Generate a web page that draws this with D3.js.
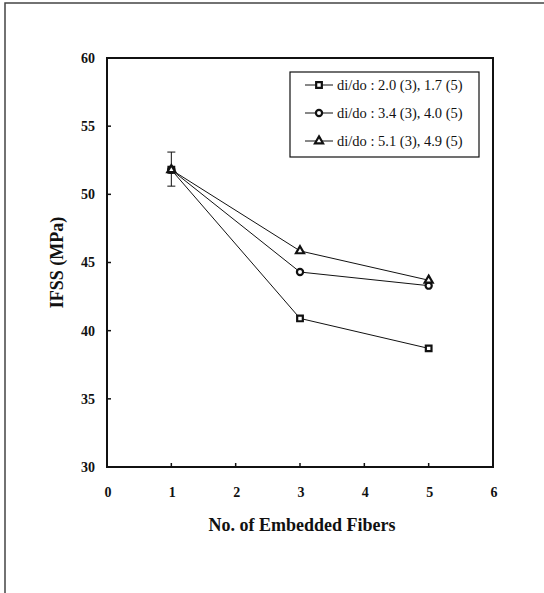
<!doctype html>
<html lang="en">
  <head>
    <meta charset="UTF-8" />
    <title>IFSS vs No. of Embedded Fibers</title>
    <script src="https://d3js.org/d3.v7.min.js"></script>
    <style>
      body {
        margin: 0;
        padding: 0;
        background: #fff;
      }
      text {
        font-family: 'Liberation Serif', 'Times New Roman', serif;
        fill: #111;
      }
      .tick-label {
        font-size: 14px;
        font-weight: bold;
      }
      .axis-title {
        font-size: 18px;
        font-weight: bold;
      }
      .legend-text {
        font-size: 14.5px;
      }
    </style>
  </head>
  <body>
    <div id="chart"></div>
    <script>
      // Data
      const fibers = [1, 3, 5]
      const seriesNames = [
        'di/do : 2.0 (3), 1.7 (5)',
        'di/do : 3.4 (3), 4.0 (5)',
        'di/do : 5.1 (3), 4.9 (5)',
      ]
      const seriesSymbols = ['square', 'circle', 'triangle']
      const ifssSquare = [51.8, 40.9, 38.7]
      const ifssCircle = [51.8, 44.3, 43.3]
      const ifssTriangle = [51.8, 45.85, 43.7]
      const errorLow = [50.6]
      const errorHigh = [53.1]
      const xTicks = [0, 1, 2, 3, 4, 5, 6]
      const yTicks = [30, 35, 40, 45, 50, 55, 60]

      const allSeries = [ifssSquare, ifssCircle, ifssTriangle]

      const W = 544
      const H = 593
      const plot = { left: 107, top: 58, right: 493, bottom: 467 }

      const svg = d3
        .select('#chart')
        .append('svg')
        .attr('width', W)
        .attr('height', H)

      // scanned page frame (left and top edges)
      svg
        .append('path')
        .attr('d', `M5,${H} L5,3 L${W},3`)
        .attr('fill', 'none')
        .attr('stroke', '#444')
        .attr('stroke-width', 1.5)

      const x = d3.scaleLinear().domain([0, 6]).range([plot.left, plot.right])
      const y = d3.scaleLinear().domain([30, 60]).range([plot.bottom, plot.top])

      // plot frame
      svg
        .append('rect')
        .attr('x', plot.left)
        .attr('y', plot.top)
        .attr('width', plot.right - plot.left)
        .attr('height', plot.bottom - plot.top)
        .attr('fill', 'none')
        .attr('stroke', '#111')
        .attr('stroke-width', 2)

      // inward ticks
      svg
        .selectAll('.ytick')
        .data(yTicks.slice(1, -1))
        .join('line')
        .attr('x1', plot.left)
        .attr('x2', plot.left + 4)
        .attr('y1', (d) => y(d))
        .attr('y2', (d) => y(d))
        .attr('stroke', '#111')
        .attr('stroke-width', 1.5)

      svg
        .selectAll('.xtick')
        .data(xTicks.slice(1, -1))
        .join('line')
        .attr('x1', (d) => x(d))
        .attr('x2', (d) => x(d))
        .attr('y1', plot.bottom)
        .attr('y2', plot.bottom - 4)
        .attr('stroke', '#111')
        .attr('stroke-width', 1.5)

      // tick labels
      svg
        .selectAll('.ylab')
        .data(yTicks)
        .join('text')
        .attr('class', 'tick-label')
        .attr('x', 95)
        .attr('y', (d) => y(d))
        .attr('dy', '0.35em')
        .attr('text-anchor', 'end')
        .text((d) => d)

      svg
        .selectAll('.xlab')
        .data(xTicks)
        .join('text')
        .attr('class', 'tick-label')
        .attr('x', (d) => x(d) + 1)
        .attr('y', 497)
        .attr('text-anchor', 'middle')
        .text((d) => d)

      // axis titles
      svg
        .append('text')
        .attr('class', 'axis-title')
        .attr('x', 302)
        .attr('y', 531)
        .attr('text-anchor', 'middle')
        .text('No. of Embedded Fibers')

      svg
        .append('text')
        .attr('class', 'axis-title')
        .attr('transform', `translate(63, ${(plot.top + plot.bottom) / 2}) rotate(-90)`)
        .attr('text-anchor', 'middle')
        .text('IFSS (MPa)')

      // lines
      const line = d3
        .line()
        .x((d, i) => x(fibers[i]))
        .y((d) => y(d))

      svg
        .selectAll('.series-line')
        .data(allSeries)
        .join('path')
        .attr('d', line)
        .attr('fill', 'none')
        .attr('stroke', '#111')
        .attr('stroke-width', 1)

      // error bar at first point
      const eb = svg.append('g').attr('stroke', '#111').attr('stroke-width', 1)
      errorLow.forEach((lo, i) => {
        const cx = x(fibers[i])
        eb.append('line').attr('x1', cx).attr('x2', cx).attr('y1', y(lo)).attr('y2', y(errorHigh[i]))
        eb.append('line').attr('x1', cx - 4).attr('x2', cx + 4).attr('y1', y(lo)).attr('y2', y(lo))
        eb.append('line')
          .attr('x1', cx - 4)
          .attr('x2', cx + 4)
          .attr('y1', y(errorHigh[i]))
          .attr('y2', y(errorHigh[i]))
      })

      const symbolType = {
        square: d3.symbolSquare,
        circle: d3.symbolCircle,
        triangle: d3.symbolTriangle,
      }
      const symbolSize = { square: 32, circle: 30, triangle: 28 }

      function drawMarker(g, kind, cx, cy) {
        g.append('path')
          .attr('d', d3.symbol(symbolType[kind], symbolSize[kind])())
          .attr('transform', `translate(${cx},${cy})`)
          .attr('fill', '#fff')
          .attr('stroke', '#111')
          .attr('stroke-width', 2.2)
      }

      // markers
      const markers = svg.append('g')
      allSeries.forEach((vals, s) => {
        vals.forEach((v, i) => drawMarker(markers, seriesSymbols[s], x(fibers[i]), y(v)))
      })

      // legend
      const legend = svg.append('g').attr('transform', 'translate(290, 72)')
      legend
        .append('rect')
        .attr('width', 189)
        .attr('height', 85)
        .attr('fill', '#fff')
        .attr('stroke', '#111')
        .attr('stroke-width', 1.2)

      seriesNames.forEach((name, i) => {
        const ry = 13 + i * 28
        legend
          .append('line')
          .attr('x1', 15)
          .attr('x2', 43)
          .attr('y1', ry)
          .attr('y2', ry)
          .attr('stroke', '#111')
          .attr('stroke-width', 1)
        drawMarker(legend, seriesSymbols[i], 29, ry)
        legend
          .append('text')
          .attr('class', 'legend-text')
          .attr('x', 47)
          .attr('y', ry)
          .attr('dy', '0.35em')
          .text(name)
      })
    </script>
  </body>
</html>
